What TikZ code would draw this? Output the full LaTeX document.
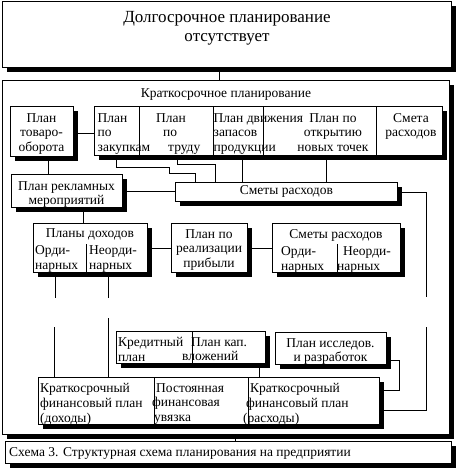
\documentclass[tikz,border=0pt]{standalone}
\usepackage{fontspec}
\setmainfont{Liberation Serif}
\usetikzlibrary{shadows}

\begin{document}
\begin{tikzpicture}[
  x=1pt, y=-1pt,
  font=\fontsize{13.5}{14.8}\selectfont,
  box/.style={draw, fill=white, line width=0.8pt, inner sep=0pt, anchor=north west,
              drop shadow={shadow xshift=4.5pt, shadow yshift=-4.5pt, fill=black, opacity=1}},
  lbl/.style={inner sep=0pt, align=left, anchor=north west},
  clbl/.style={inner sep=0pt, align=center, anchor=north},
  wire/.style={draw, line width=0.8pt},
]
\useasboundingbox (0,0) rectangle (458,472);

% top level
\node[box, minimum width=449pt, minimum height=66pt] (lng) at (2,1) {};
\node[clbl, font=\fontsize{17}{19.5}\selectfont] (lngT) at (227,11)
  {Долгосрочное планирование\\отсутствует};
\node[box, minimum width=447pt, minimum height=354pt] (shrt) at (2,80) {};
\node[clbl] (shrtT) at (226,88) {Краткосрочное планирование};

% first row
\node[box, minimum width=63pt, minimum height=50pt] (tov) at (10,106) {};
\node[box, minimum width=45pt, minimum height=49pt] (zak) at (94,106) {};
\node[box, minimum width=74pt, minimum height=49pt] (tru) at (139,106) {};
\node[box, minimum width=50pt, minimum height=49pt] (zap) at (213,106) {};
\node[box, minimum width=113pt, minimum height=49pt] (otk) at (263,106) {};
\node[box, minimum width=66pt, minimum height=49pt] (smt) at (376,106) {};
\node[clbl] (tovT) at (41.5,113) {План\\товаро-\\оборота};
\node[lbl] (zakT) at (97.5,113) {План\\по\\закупкам};
\node[lbl] (truT) at (156,113) {План\\\hspace*{7pt}по\\\hspace*{12pt}труду};
\node[lbl] (zapT) at (213.5,113) {План движения\\запасов\\продукции};
\node[clbl] (otkT) at (333,113) {План по\\открытию\\новых точек};
\node[clbl] (smtT) at (411,113) {Смета\\расходов};

% second row
\node[box, minimum width=111pt, minimum height=33pt] (rek) at (11,174) {};
\node[clbl] (rekT) at (66.5,181) {План рекламных\\мероприятий};
\node[box, minimum width=222pt, minimum height=19pt] (smr) at (175,182) {Сметы расходов};

% third row
\node[box, minimum width=114pt, minimum height=49pt] (dox) at (33,223) {};
\node[clbl] (doxT) at (90,228) {Планы доходов};
\node[lbl] (doxA) at (35,245.5) {Орди-\\нарных};
\node[lbl] (doxB) at (89,245.5) {Неорди-\\нарных};
\node[box, minimum width=76pt, minimum height=49pt] (rea) at (171,223) {};
\node[clbl] (reaT) at (209,229) {План по\\реализации\\прибыли};
\node[box, minimum width=128pt, minimum height=49pt] (smo) at (272,223) {};
\node[clbl] (smoT) at (336,229) {Сметы расходов};
\node[lbl] (smoA) at (281,246.5) {Орди-\\нарных};
\node[lbl] (smoB) at (337,246.5) {\hspace*{6pt}Неорди-\\нарных};
\draw[wire] ([xshift=53pt]dox.south west) -- ++(0,-29);
\draw[wire] ([xshift=65pt]smo.south west) -- ++(0,-29);

% lower part
\node[box, minimum width=76pt, minimum height=32pt] (kre) at (116,331) {};
\node[box, minimum width=73pt, minimum height=32pt] (kap) at (192,331) {};
\node[lbl] (kreT) at (118,337) {Кредитный\\план};
\node[lbl] (kapT) at (182,337) {\hspace*{9pt}План кап.\\вложений};
\node[box, minimum width=111pt, minimum height=32pt] (iss) at (275,332) {};
\node[clbl] (issT) at (330.5,338) {План исследов.\\и разработок};

\node[box, minimum width=116pt, minimum height=47pt] (fdo) at (38,377) {};
\node[box, minimum width=94pt, minimum height=47pt] (fuv) at (154,377) {};
\node[box, minimum width=131pt, minimum height=47pt] (fra) at (248,377) {};
\node[lbl] (fdoT) at (40,383) {Краткосрочный\\финансовый план\\(доходы)};
\node[lbl] (fuvT) at (152,383) {\hspace*{4pt}Постоянная\\финансовая\\\hspace*{2pt}увязка};
\node[lbl] (fraT) at (243,383)
  {\hspace*{7pt}Краткосрочный\\\hspace*{3pt}финансовый план\\(расходы)};

% caption
\node[box, minimum width=446pt, minimum height=22pt] (cap) at (5,441) {};
\node[lbl] (capT) at (9,447) {Схема 3. Структурная схема планирования на предприятии};

% connectors
\coordinate (brkOa) at (55,298);
\coordinate (brkOb) at (54,327);
\coordinate (brkNa) at (108,298);
\coordinate (brkNb) at (108,318);
\coordinate (brkRa) at (426,297);
\coordinate (brkRb) at (426,327);

\draw[wire] ([xshift=-7.5pt]lng.south) -- ([xshift=-7.5pt]lng.south |- shrt.north);
\draw[wire] ([yshift=-2pt]zak.west) -- ([yshift=-2pt]zak.west -| tov.east);
\draw[wire] ([xshift=6.5pt]tov.south) -- ([xshift=6.5pt]tov.south |- rek.north);
\draw[wire] ([xshift=22pt]zak.south west) -- ++(0,12) -| ++(53,6)
  -| ([xshift=20pt]smr.north west);
\draw[wire] ([xshift=38pt]tru.south west) -- ++(0,9) -| ([xshift=40pt]smr.north west);
\draw[wire] ([xshift=29pt]zap.south west) -- ([xshift=29pt]zap.south west |- smr.north);
\draw[wire] ([xshift=63pt]otk.south west) -- ([xshift=63pt]otk.south west |- smr.north);
\draw[wire] (rek.east) -- (rek.east -| smr.west);
\draw[wire] ([xshift=16.5pt]rek.south) -- ([xshift=16.5pt]rek.south |- dox.north);
\draw[wire] (dox.east) -- (rea.west);
\draw[wire] (rea.east) -- (smo.west);
\draw[wire] ([xshift=22pt]dox.south west) -- (brkOa);
\draw[wire] (brkOb) -- (brkOb |- fdo.north);
\draw[wire] ([xshift=75pt]dox.south west) -- (brkNa);
\draw[wire] (brkNb) -- (brkNb |- fdo.north);
\draw[wire] (smr.east) -| (brkRa);
\draw[wire] (brkRb) |- ([yshift=-9pt]fra.east);
\draw[wire] ([yshift=-12pt]iss.east) -- ++(13,0) |- ([yshift=10.5pt]fra.east);
\draw[wire] ([xshift=-6pt]kap.south east) -- ([xshift=-6pt]kap.south east |- fra.north);
\draw[wire] ([xshift=9.5pt]shrt.south) -- ([xshift=9.5pt]shrt.south |- cap.north);
\end{tikzpicture}
\end{document}
